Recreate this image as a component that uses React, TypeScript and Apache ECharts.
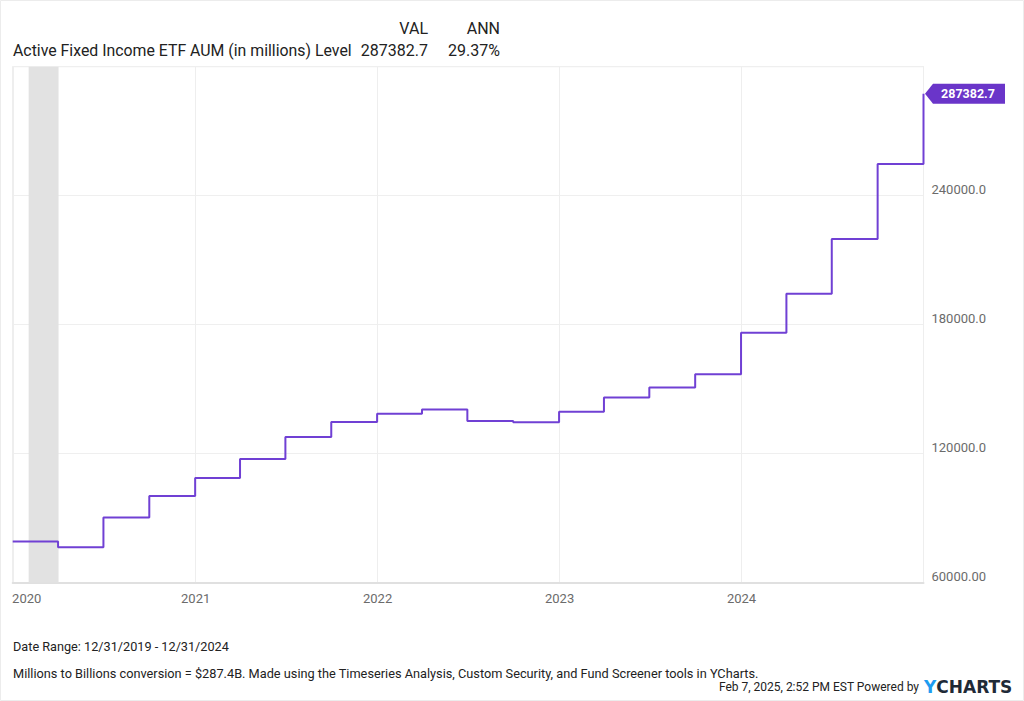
import React, { useEffect, useRef } from "react";
import * as echarts from "echarts";

const dates = [
  "2019-12-31", "2020-03-31", "2020-06-30", "2020-09-30", "2020-12-31",
  "2021-03-31", "2021-06-30", "2021-09-30", "2021-12-31",
  "2022-03-31", "2022-06-30", "2022-09-30", "2022-12-31",
  "2023-03-31", "2023-06-30", "2023-09-30", "2023-12-31",
  "2024-03-31", "2024-06-30", "2024-09-30", "2024-12-31",
];
const values = [
  79100, 76350, 90300, 100250, 108600,
  117500, 127700, 134700, 138500,
  140500, 135200, 134600, 139400,
  146100, 150700, 156900, 176200,
  194300, 219800, 254750, 287382.7,
];
const recession = ["2020-02-01", "2020-04-01"];
const xTickLabels = ["2020", "2021", "2022", "2023", "2024"];
const yTicks = [60000, 120000, 180000, 240000];
const yTickLabels = ["60000.00", "120000.0", "180000.0", "240000.0"];

const seriesName = "Active Fixed Income ETF AUM (in millions) Level";
const lastVal = "287382.7";
const annVal = "29.37%";

const FONT = "Roboto";

export default function App() {
  const ref = useRef<HTMLDivElement>(null);
  useEffect(() => {
    const chart = echarts.init(ref.current!, null, { renderer: "svg" });
    const data = dates.map((d, i) => [d, values[i]]);
    const n = values.length;
    chart.setOption({
      animation: false,
      backgroundColor: "#ffffff",
      textStyle: { fontFamily: FONT },
      grid: {
        left: 12.7,
        top: 66.7,
        right: 100.5,
        bottom: 118.5,
        show: true,
        borderColor: "#e8e8e8",
        borderWidth: 1,
        backgroundColor: "transparent",
      },
      xAxis: {
        type: "time",
        min: "2019-12-31",
        max: "2024-12-31",
        minInterval: 360 * 24 * 3600 * 1000,
        axisLine: { show: true, lineStyle: { color: "#e0e0e0", width: 2 } },
        axisTick: { show: false },
        splitLine: { show: true, lineStyle: { color: "#eeeeee", width: 1 } },
        axisLabel: {
          color: "#6b6b6b",
          fontSize: 13,
          fontFamily: FONT,
          margin: 9,
          hideOverlap: false,
          formatter: (val: number) => {
            const d = new Date(val);
            if (d.getMonth() !== 0 || d.getDate() !== 1) return "";
            const idx = d.getFullYear() - 2020;
            if (idx < 0 || idx >= xTickLabels.length) return "";
            return idx === 0 ? "{first|" + xTickLabels[0] + "}" : xTickLabels[idx];
          },
          rich: {
            first: { padding: [0, 0, 0, 27], color: "#6b6b6b", fontSize: 13, fontFamily: FONT },
          },
        },
      },
      yAxis: {
        type: "value",
        position: "right",
        min: 60000,
        max: 300000,
        interval: 60000,
        axisLine: { show: false },
        axisTick: { show: false },
        splitLine: { show: true, lineStyle: { color: "#efefef", width: 1 } },
        axisLabel: {
          color: "#6b6b6b",
          fontSize: 13,
          fontFamily: FONT,
          margin: 8,
          verticalAlign: "bottom",
          showMaxLabel: false,
          formatter: (v: number) => {
            const i = yTicks.indexOf(v);
            return i >= 0 ? yTickLabels[i] : "";
          },
        },
      },
      series: [
        {
          type: "line",
          name: seriesName,
          data,
          step: "end",
          showSymbol: false,
          symbol: "none",
          lineStyle: { color: "#7040d4", width: 2 },
          itemStyle: { color: "#7040d4" },
          z: 5,
          markArea: {
            silent: true,
            itemStyle: { color: "#e2e2e2" },
            data: [[{ xAxis: recession[0] }, { xAxis: recession[1] }]],
          },
          markPoint: {
            silent: true,
            symbol: "path://M0,10 L8,0 L80,0 L80,20 L8,20 Z",
            symbolSize: [80, 20],
            symbolOffset: [41.5, 0],
            itemStyle: { color: "#6a35c9" },
            label: {
              show: true,
              position: "inside",
              offset: [3, 0],
              color: "#ffffff",
              fontWeight: "bold",
              fontSize: 12.5,
              fontFamily: FONT,
              formatter: lastVal,
            },
            data: [{ coord: [dates[n - 1], values[n - 1]] }],
          },
        },
      ],
      graphic: [
        {
          type: "rect",
          shape: { x: 0.5, y: 0.5, width: 1023, height: 700 },
          style: { fill: "none", stroke: "#ececec", lineWidth: 1 },
          silent: true,
        },
        {
          type: "text",
          x: 428,
          y: 28,
          style: { text: "VAL", font: `16px ${FONT}`, fill: "#222", textAlign: "right", textVerticalAlign: "middle" },
        },
        {
          type: "text",
          x: 500,
          y: 28,
          style: { text: "ANN", font: `16px ${FONT}`, fill: "#222", textAlign: "right", textVerticalAlign: "middle" },
        },
        {
          type: "text",
          x: 13,
          y: 50,
          style: { text: seriesName, font: `15.85px ${FONT}`, fill: "#222", textAlign: "left", textVerticalAlign: "middle" },
        },
        {
          type: "text",
          x: 428,
          y: 50,
          style: { text: lastVal, font: `16px ${FONT}`, fill: "#222", textAlign: "right", textVerticalAlign: "middle" },
        },
        {
          type: "text",
          x: 500,
          y: 50,
          style: { text: annVal, font: `16px ${FONT}`, fill: "#222", textAlign: "right", textVerticalAlign: "middle" },
        },
        {
          type: "text",
          x: 13,
          y: 646,
          style: { text: "Date Range: 12/31/2019 - 12/31/2024", font: `12.7px ${FONT}`, fill: "#222", textAlign: "left", textVerticalAlign: "middle" },
        },
        {
          type: "text",
          x: 13,
          y: 673,
          style: {
            text: "Millions to Billions conversion = $287.4B. Made using the Timeseries Analysis, Custom Security, and Fund Screener tools in YCharts.",
            font: `12.75px ${FONT}`,
            fill: "#222",
            textAlign: "left",
            textVerticalAlign: "middle",
          },
        },
        {
          type: "text",
          x: 919,
          y: 687,
          style: { text: "Feb 7, 2025, 2:52 PM EST Powered by", font: `12px ${FONT}`, fill: "#222", textAlign: "right", textVerticalAlign: "middle" },
        },
        {
          type: "text",
          x: 924,
          y: 687,
          style: {
            text: "{y|Y}{c|CHARTS}",
            textAlign: "left",
            textVerticalAlign: "middle",
            rich: {
              y: { font: `bold 17px 'DejaVu Sans'`, fill: "#1e9cf0" },
              c: { font: `bold 17px 'DejaVu Sans'`, fill: "#1f2a37" },
            },
          },
        },
      ],
    });
    return () => chart.dispose();
  }, []);
  return (
    <div
      ref={ref}
      style={{ position: "fixed", left: 0, top: 0, width: 1024, height: 701 }}
    />
  );
}
